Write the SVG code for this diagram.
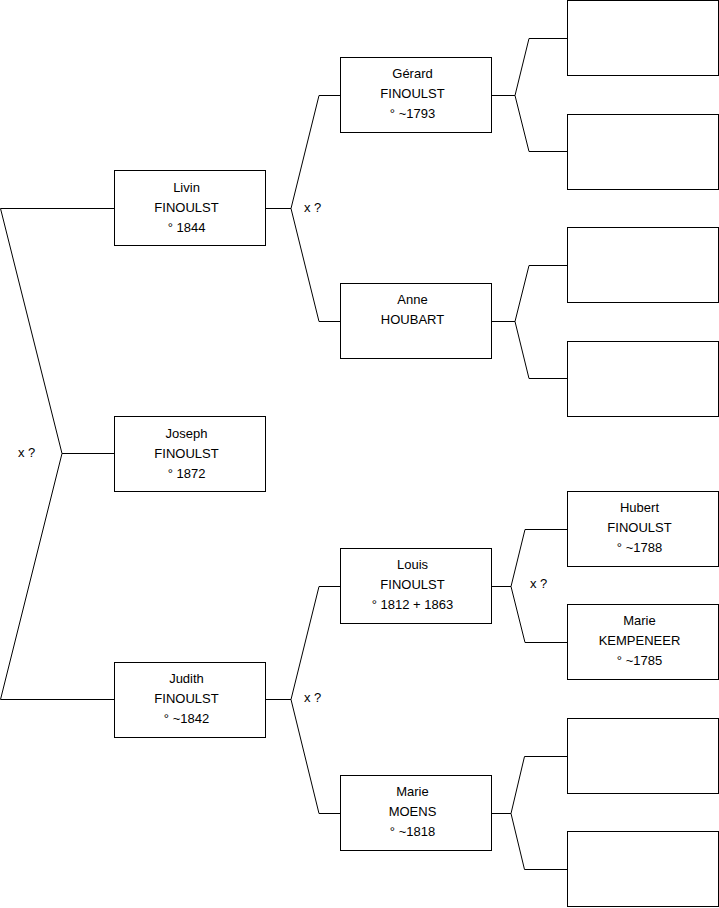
<svg xmlns="http://www.w3.org/2000/svg" width="719" height="908" viewBox="0 0 719 908">
<style>
.box{fill:#fff;stroke:#000;stroke-width:1}
.ln{fill:none;stroke:#000;stroke-width:1}
text{font-family:"Liberation Sans",Arial,sans-serif;font-size:13px;fill:#000}
.c{text-anchor:middle}
</style>
<rect width="719" height="908" fill="#fff"/>
<g id="connectors">
<polyline class="ln" points="114.5,208.5 0.5,208.5 62,453.5 0.5,699.5 114.5,699.5"/>
<line class="ln" x1="62" y1="453.5" x2="114.5" y2="453.5"/>
<line class="ln" x1="265.5" y1="208.5" x2="291" y2="208.5"/>
<polyline class="ln" points="340.5,95.5 319,95.5 291,208.5 319,321.5 340.5,321.5"/>
<line class="ln" x1="265.5" y1="699.5" x2="291" y2="699.5"/>
<polyline class="ln" points="340.5,586.5 319,586.5 291,699.5 319,813.5 340.5,813.5"/>
<line class="ln" x1="491.5" y1="95.5" x2="515" y2="95.5"/>
<polyline class="ln" points="567.5,38.5 529,38.5 515,95.5 529,151.5 567.5,151.5"/>
<line class="ln" x1="491.5" y1="321.5" x2="515" y2="321.5"/>
<polyline class="ln" points="567.5,265.5 529,265.5 515,321.5 529,378.5 567.5,378.5"/>
<line class="ln" x1="491.5" y1="586.5" x2="511" y2="586.5"/>
<polyline class="ln" points="567.5,529.5 525,529.5 511,586.5 525,642.5 567.5,642.5"/>
<line class="ln" x1="491.5" y1="813.5" x2="511" y2="813.5"/>
<polyline class="ln" points="567.5,756.5 524.5,756.5 511,813.5 524.5,869.5 567.5,869.5"/>
<text x="18" y="457">x ?</text>
<text x="304" y="212">x ?</text>
<text x="304" y="702">x ?</text>
<text x="530" y="588">x ?</text>
</g>
<g id="livin"><rect class="box" x="114.5" y="170.5" width="151" height="75"/>
<text class="c" x="186.5" y="192">Livin</text><text class="c" x="186.5" y="212">FINOULST</text><text class="c" x="186.5" y="232">° 1844</text></g>
<g id="joseph"><rect class="box" x="114.5" y="416.5" width="151" height="75"/>
<text class="c" x="186.5" y="438">Joseph</text><text class="c" x="186.5" y="458">FINOULST</text><text class="c" x="186.5" y="478">° 1872</text></g>
<g id="judith"><rect class="box" x="114.5" y="662.5" width="151" height="75"/>
<text class="c" x="186.5" y="683">Judith</text><text class="c" x="186.5" y="703">FINOULST</text><text class="c" x="186.5" y="723">° ~1842</text></g>
<g id="gerard"><rect class="box" x="340.5" y="57.5" width="151" height="75"/>
<text class="c" x="412.5" y="78">Gérard</text><text class="c" x="412.5" y="98">FINOULST</text><text class="c" x="412.5" y="118">° ~1793</text></g>
<g id="anne"><rect class="box" x="340.5" y="283.5" width="151" height="75"/>
<text class="c" x="412.5" y="304">Anne</text><text class="c" x="412.5" y="324">HOUBART</text></g>
<g id="louis"><rect class="box" x="340.5" y="548.5" width="151" height="75"/>
<text class="c" x="412.5" y="569">Louis</text><text class="c" x="412.5" y="589">FINOULST</text><text class="c" x="412.5" y="609">° 1812 + 1863</text></g>
<g id="marie-moens"><rect class="box" x="340.5" y="775.5" width="151" height="75"/>
<text class="c" x="412.5" y="796">Marie</text><text class="c" x="412.5" y="816">MOENS</text><text class="c" x="412.5" y="836">° ~1818</text></g>
<g id="empty1"><rect class="box" x="567.5" y="0.5" width="151" height="75"/></g>
<g id="empty2"><rect class="box" x="567.5" y="114.5" width="151" height="75"/></g>
<g id="empty3"><rect class="box" x="567.5" y="227.5" width="151" height="75"/></g>
<g id="empty4"><rect class="box" x="567.5" y="341.5" width="151" height="75"/></g>
<g id="hubert"><rect class="box" x="567.5" y="491.5" width="151" height="75"/>
<text class="c" x="639.5" y="512">Hubert</text><text class="c" x="639.5" y="532">FINOULST</text><text class="c" x="639.5" y="552">° ~1788</text></g>
<g id="marie-kempeneer"><rect class="box" x="567.5" y="604.5" width="151" height="75"/>
<text class="c" x="639.5" y="625">Marie</text><text class="c" x="639.5" y="645">KEMPENEER</text><text class="c" x="639.5" y="665">° ~1785</text></g>
<g id="empty5"><rect class="box" x="567.5" y="718.5" width="151" height="75"/></g>
<g id="empty6"><rect class="box" x="567.5" y="831.5" width="151" height="75"/></g>
</svg>
